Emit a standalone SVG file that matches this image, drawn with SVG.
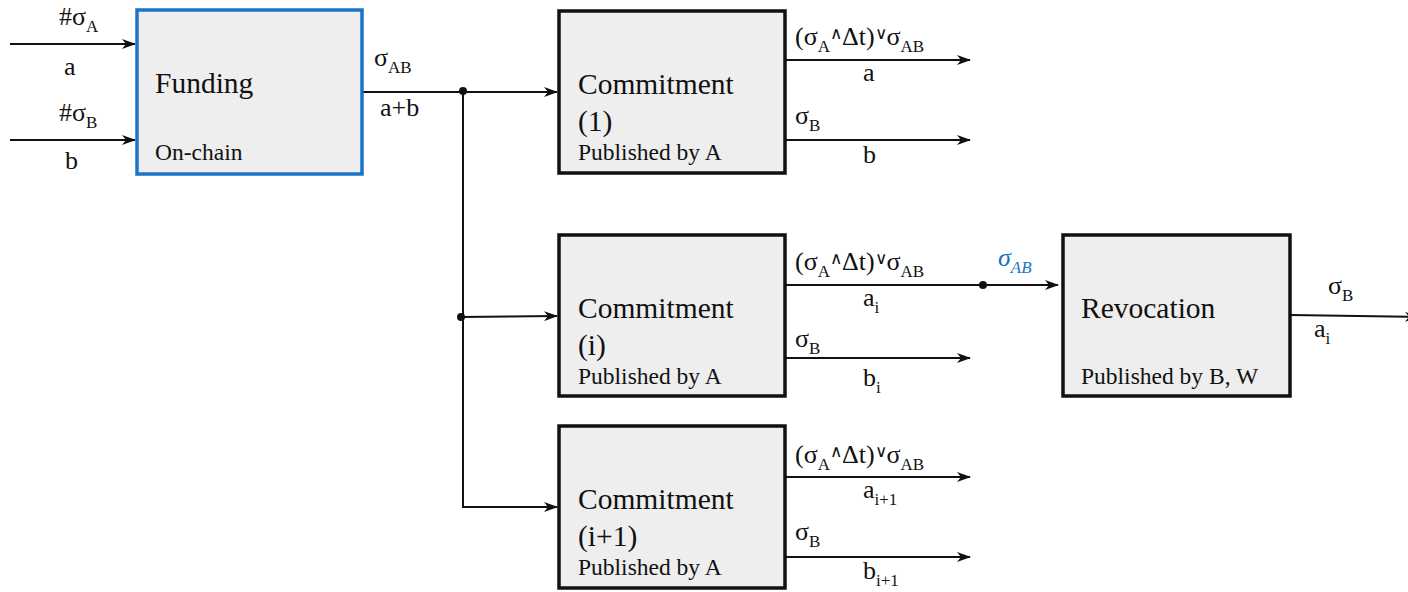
<svg xmlns="http://www.w3.org/2000/svg" width="1408" height="592" viewBox="0 0 1408 592">
  <style>
    text { font-family: "Liberation Serif", "Times New Roman", serif; fill: #111; }
    .title { font-size: 29.5px; }
    .sub-title { font-size: 23.5px; }
    .lbl { font-size: 26px; }
    .s { font-size: 17px; }
    .op { font-size: 17px; font-family: "DejaVu Sans", sans-serif; font-weight: 200; }
    .box { fill: #eeeeee; stroke: #111; stroke-width: 3.5; }
    .box-blue { fill: #eeeeee; stroke: #1a74c6; stroke-width: 3.5; }
    .wire { fill: none; stroke: #111; stroke-width: 2; }
    .blue { fill: #1a74c6; font-style: italic; }
  </style>
  <defs>
    <marker id="arrow" viewBox="0 0 14 10" refX="13" refY="5" markerWidth="14" markerHeight="10" markerUnits="userSpaceOnUse" orient="auto">
      <path d="M0,0 L14,5 L0,10 L4,5 Z" fill="#111"/>
    </marker>
  </defs>

  <!-- connectors -->
  <g id="connectors">
    <!-- funding inputs -->
    <line class="wire" x1="10" y1="44" x2="135" y2="44" marker-end="url(#arrow)"/>
    <line class="wire" x1="10" y1="140" x2="135" y2="140" marker-end="url(#arrow)"/>
    <!-- funding output and fan-out bus -->
    <line class="wire" x1="362" y1="92" x2="557" y2="92" marker-end="url(#arrow)"/>
    <polyline class="wire" points="463,92 463,507 557,507" marker-end="url(#arrow)"/>
    <line class="wire" x1="461" y1="317" x2="557" y2="316" marker-end="url(#arrow)"/>
    <circle cx="463" cy="91" r="4" fill="#111"/>
    <circle cx="461" cy="317" r="4" fill="#111"/>
    <!-- commitment (1) outputs -->
    <line class="wire" x1="786" y1="60" x2="970" y2="60" marker-end="url(#arrow)"/>
    <line class="wire" x1="786" y1="140" x2="970" y2="140" marker-end="url(#arrow)"/>
    <!-- commitment (i) outputs -->
    <line class="wire" x1="786" y1="285" x2="1058" y2="285" marker-end="url(#arrow)"/>
    <circle cx="983" cy="285" r="4" fill="#111"/>
    <line class="wire" x1="786" y1="358" x2="970" y2="358" marker-end="url(#arrow)"/>
    <!-- commitment (i+1) outputs -->
    <line class="wire" x1="786" y1="477" x2="970" y2="477" marker-end="url(#arrow)"/>
    <line class="wire" x1="786" y1="557" x2="970" y2="557" marker-end="url(#arrow)"/>
    <!-- revocation output -->
    <line class="wire" x1="1291" y1="315" x2="1418" y2="317" marker-end="url(#arrow)"/>
  </g>

  <!-- connector labels -->
  <g id="labels">
    <text class="lbl" x="59" y="25">#σ<tspan class="s" dy="7">A</tspan></text>
    <text class="lbl" x="64" y="75">a</text>
    <text class="lbl" x="59" y="121">#σ<tspan class="s" dy="7">B</tspan></text>
    <text class="lbl" x="65" y="169">b</text>

    <text class="lbl" x="374" y="66">σ<tspan class="s" dy="7">AB</tspan></text>
    <text class="lbl" x="380" y="116">a+b</text>

    <text class="lbl" x="795" y="45">(σ<tspan class="s" dy="7">A</tspan><tspan class="op" dy="-13">∧</tspan><tspan dy="6">Δt)</tspan><tspan class="op" dy="-6">∨</tspan><tspan dy="6">σ</tspan><tspan class="s" dy="7">AB</tspan></text>
    <text class="lbl" x="863" y="81">a</text>
    <text class="lbl" x="795" y="124">σ<tspan class="s" dy="7">B</tspan></text>
    <text class="lbl" x="863" y="163">b</text>

    <text class="lbl" x="795" y="270">(σ<tspan class="s" dy="7">A</tspan><tspan class="op" dy="-13">∧</tspan><tspan dy="6">Δt)</tspan><tspan class="op" dy="-6">∨</tspan><tspan dy="6">σ</tspan><tspan class="s" dy="7">AB</tspan></text>
    <text class="lbl" x="863" y="306">a<tspan class="s" dy="7">i</tspan></text>
    <text class="lbl" x="795" y="347">σ<tspan class="s" dy="7">B</tspan></text>
    <text class="lbl" x="863" y="386">b<tspan class="s" dy="7">i</tspan></text>

    <text class="lbl blue" x="998" y="266">σ<tspan class="s" dy="7">AB</tspan></text>

    <text class="lbl" x="795" y="463">(σ<tspan class="s" dy="7">A</tspan><tspan class="op" dy="-13">∧</tspan><tspan dy="6">Δt)</tspan><tspan class="op" dy="-6">∨</tspan><tspan dy="6">σ</tspan><tspan class="s" dy="7">AB</tspan></text>
    <text class="lbl" x="863" y="498">a<tspan class="s" dy="7">i+1</tspan></text>
    <text class="lbl" x="795" y="540">σ<tspan class="s" dy="7">B</tspan></text>
    <text class="lbl" x="863" y="579">b<tspan class="s" dy="7">i+1</tspan></text>

    <text class="lbl" x="1328" y="294">σ<tspan class="s" dy="7">B</tspan></text>
    <text class="lbl" x="1314" y="337">a<tspan class="s" dy="7">i</tspan></text>
  </g>

  <!-- nodes -->
  <g id="funding">
    <rect class="box-blue" x="137" y="10" width="225" height="164"/>
    <text class="title" x="155" y="93">Funding</text>
    <text class="sub-title" x="155" y="160">On-chain</text>
  </g>
  <g id="commitment-1">
    <rect class="box" x="559" y="11" width="226" height="162"/>
    <text class="title" x="578" y="94">Commitment</text>
    <text class="title" x="578" y="131">(1)</text>
    <text class="sub-title" x="578" y="160">Published by A</text>
  </g>
  <g id="commitment-i">
    <rect class="box" x="559" y="235" width="226" height="161"/>
    <text class="title" x="578" y="318">Commitment</text>
    <text class="title" x="578" y="355">(i)</text>
    <text class="sub-title" x="578" y="384">Published by A</text>
  </g>
  <g id="commitment-i1">
    <rect class="box" x="559" y="426" width="226" height="162"/>
    <text class="title" x="578" y="509">Commitment</text>
    <text class="title" x="578" y="546">(i+1)</text>
    <text class="sub-title" x="578" y="575">Published by A</text>
  </g>
  <g id="revocation">
    <rect class="box" x="1063" y="235" width="227" height="161"/>
    <text class="title" x="1081" y="318">Revocation</text>
    <text class="sub-title" x="1081" y="384">Published by B, W</text>
  </g>
</svg>
